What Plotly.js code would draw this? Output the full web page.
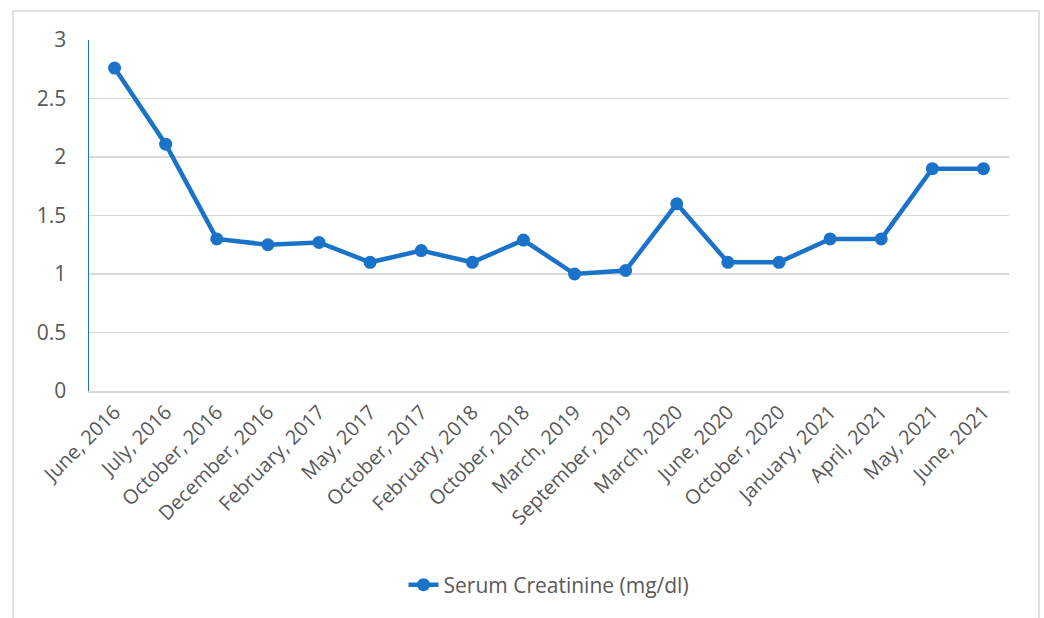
<!DOCTYPE html>
<html>
<head>
<meta charset="utf-8">
<script src="https://cdn.plot.ly/plotly-3.0.1.min.js"></script>
<style>html,body{margin:0;padding:0;background:#fff;}#chart{width:1044px;height:618px;}</style>
</head>
<body>
<div id="chart"></div>
<script>
const categories = ["June, 2016","July, 2016","October, 2016","December, 2016","February, 2017","May, 2017","October, 2017","February, 2018","October, 2018","March, 2019","September, 2019","March, 2020","June, 2020","October, 2020","January, 2021","April, 2021","May, 2021","June, 2021"];
const serumCreatinine = [2.76, 2.11, 1.30, 1.25, 1.27, 1.10, 1.20, 1.10, 1.29, 1.00, 1.03, 1.60, 1.10, 1.10, 1.30, 1.30, 1.90, 1.90];
const seriesName = "Serum Creatinine (mg/dl)";
const yTicks = [0, 0.5, 1, 1.5, 2, 2.5, 3];

const W = 1044, H = 618, L = 89, R = 35, T = 40, B = 227;
const pw = W - L - R, ph = H - T - B;
const px = v => (v - L) / pw;
const py = v => (H - B - v) / ph;

const blue = "#1a73c9";
const font = "'Open Sans', sans-serif";

Plotly.newPlot("chart", [{
  x: categories,
  y: serumCreatinine,
  name: seriesName,
  type: "scatter",
  mode: "lines+markers",
  line: {color: blue, width: 4.5},
  marker: {color: blue, size: 13},
  showlegend: true
}], {
  width: W, height: H,
  margin: {l: L, r: R, t: T, b: B},
  paper_bgcolor: "#fff",
  plot_bgcolor: "#fff",
  font: {family: font, color: "#595959", size: 21},
  showlegend: true,
  legend: {orientation: "h", x: 0.5, xanchor: "center", y: py(585), yanchor: "middle",
           font: {size: 21, color: "#595959"}},
  xaxis: {
    type: "category",
    range: [-0.5, categories.length - 0.5],
    tickangle: -45,
    showgrid: false,
    showline: true, linecolor: "#d9d9d9", linewidth: 1.5,
    ticks: "", tickfont: {size: 20, color: "#595959"},
    fixedrange: true
  },
  yaxis: {
    range: [0, 3],
    tickvals: yTicks,
    ticktext: yTicks.map(String),
    showgrid: true, gridcolor: "#d9d9d9", gridwidth: 1.5,
    zeroline: false,
    showline: true, linecolor: blue, linewidth: 1.5,
    ticks: "", ticklabelstandoff: 17,
    tickfont: {size: 21, color: "#595959"},
    fixedrange: true
  },
  shapes: [{
    type: "rect", xref: "paper", yref: "paper",
    x0: px(13), x1: px(1039), y0: py(625), y1: py(11),
    line: {color: "#d9d9d9", width: 1.5}, fillcolor: "rgba(0,0,0,0)", layer: "below"
  }]
}, {staticPlot: true});
</script>
</body>
</html>
